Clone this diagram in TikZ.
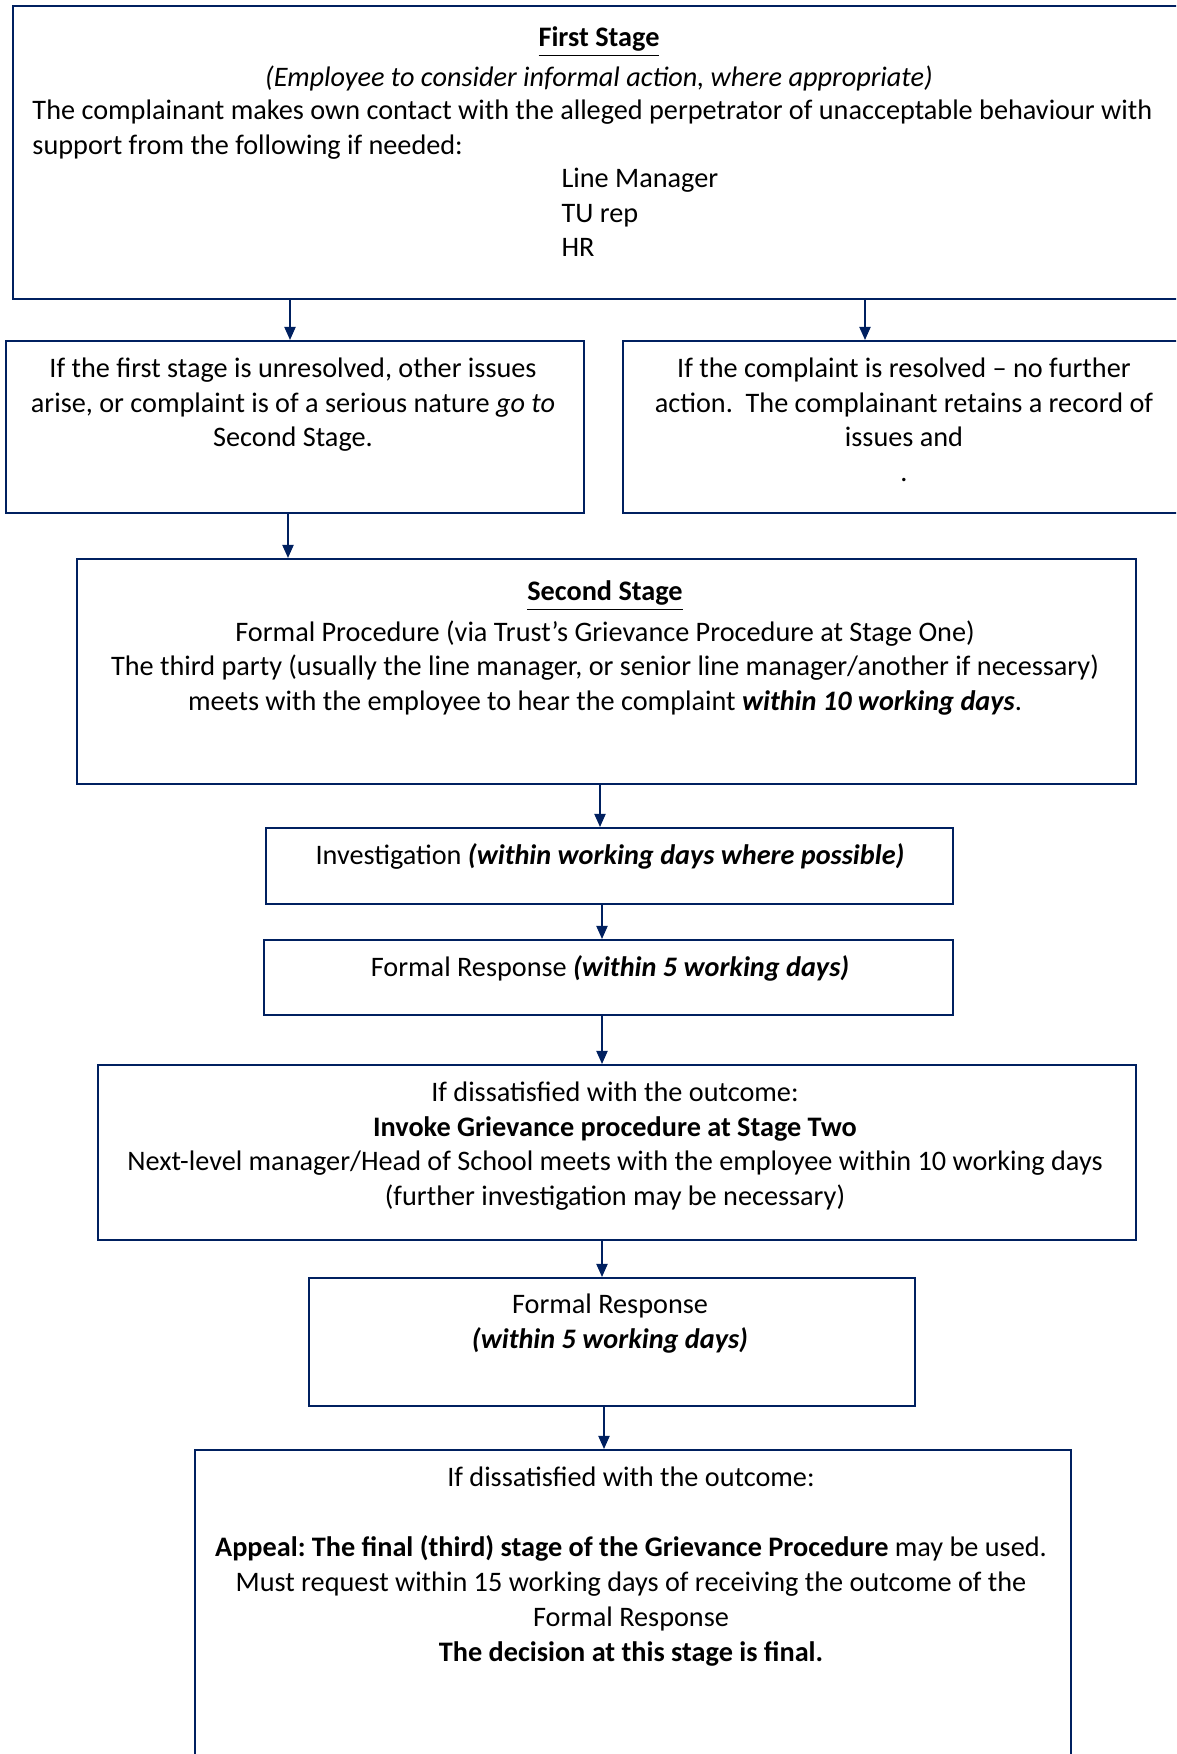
\documentclass[tikz,border=0pt]{standalone}
\usepackage{fontspec}
\setmainfont{Carlito}
\usepackage{tikz}
\usetikzlibrary{arrows.meta,positioning}
\definecolor{navy}{RGB}{0,32,96}
\frenchspacing

\begin{document}
\begin{tikzpicture}[x=0.4pt,y=-0.4pt,
box/.style={draw=navy,line width=0.9pt,anchor=north west,inner sep=0pt},
txt/.style={align=center,anchor=north,inner sep=0pt,font=\fontsize{11.3}{13.8}\selectfont,
  execute at begin node=\strut},
arr/.style={-{Triangle[length=5.3pt,width=4.5pt]},navy,line width=0.7pt}]
\useasboundingbox (0,0) rectangle (1176,1754);
\clip (0,0) rectangle (1176,1754);
% boxes
\node[box,minimum width=(1190-12)*0.4pt,minimum height=(298-4.5)*0.4pt] (first) at (12,4.5){};
\node[box,minimum width=(583-4.5)*0.4pt,minimum height=(512-340)*0.4pt] (esc) at (4.5,340){};
\node[box,minimum width=(1190-622)*0.4pt,minimum height=(512-340)*0.4pt] (res) at (622,340){};
\node[box,minimum width=(1135-76)*0.4pt,minimum height=(783-558)*0.4pt] (second) at (76,558){};
\node[box,minimum width=(952-265)*0.4pt,minimum height=(903-827)*0.4pt] (invest) at (265,827){};
\node[box,minimum width=(952-263)*0.4pt,minimum height=(1014-939)*0.4pt] (respone) at (263,939){};
\node[box,minimum width=(1135-97)*0.4pt,minimum height=(1239-1064)*0.4pt] (stagetwo) at (97,1064){};
\node[box,minimum width=(914-308)*0.4pt,minimum height=(1405-1277)*0.4pt] (resptwo) at (308,1277){};
\node[box,minimum width=(1070-194)*0.4pt,minimum height=(1770-1449)*0.4pt] (appeal) at (194,1449){};
% texts
\node[txt] (firsthead) at (599,26.5){\underline{\textbf{First Stage}}\\[2pt]\textit{(Employee to consider informal action, where appropriate)}};
\node[txt,align=left,anchor=north west] (firstbody) at (32,99.5){The complainant makes own contact with the alleged perpetrator of unacceptable behaviour with\\support from the following if needed:};
\node[txt,align=left,anchor=north west] (firstlist) at (561,168){Line Manager\\TU rep\\HR};
\node[txt] (esctext) at (293,357.5){If the first stage is unresolved, other issues\\arise, or complaint is of a serious nature \textit{go to}\\Second Stage.};
\node[txt] (restext) at (904,357.5){If the complaint is resolved -- no further\\action.\ \ The complainant retains a record of\\issues and\\.};
\node[txt] (secondtext) at (605,580.5){\underline{\textbf{Second Stage}}\\[2.4pt]Formal Procedure (via Trust’s Grievance Procedure at Stage One)\\The third party (usually the line manager, or senior line manager/another if necessary)\\meets with the employee to hear the complaint \textbf{\textit{within 10 working days}}.};
\node[txt] (investtext) at (610,840){Investigation \textbf{\textit{(within working days where possible)}}};
\node[txt] (responetext) at (610,952){Formal Response \textbf{\textit{(within 5 working days)}}};
\node[txt] (stagetwotext) at (615,1081.5){If dissatisfied with the outcome:\\\textbf{Invoke Grievance procedure at Stage Two}\\Next-level manager/Head of School meets with the employee within 10 working days\\(further investigation may be necessary)};
\node[txt] (resptwotext) at (610,1293.5){Formal Response\\\textbf{\textit{(within 5 working days)}}};
\node[txt,font=\fontsize{11.3}{14}\selectfont] (appealtext) at (631,1466){If dissatisfied with the outcome:\\[14pt]\textbf{Appeal: The final (third) stage of the Grievance Procedure} may be used.\\Must request within 15 working days of receiving the outcome of the\\Formal Response\\\textbf{The decision at this stage is final.}};
% arrows
\draw[arr] (first.south -| 290,0) -- (esc.north -| 290,0);
\draw[arr] (first.south -| 865,0) -- (res.north -| 865,0);
\draw[arr] (esc.south -| 288,0) -- (second.north -| 288,0);
\draw[arr] (second.south -| 600,0) -- (invest.north -| 600,0);
\draw[arr] (invest.south -| 602,0) -- (respone.north -| 602,0);
\draw[arr] (respone.south -| 602,0) -- (stagetwo.north -| 602,0);
\draw[arr] (stagetwo.south -| 602,0) -- (resptwo.north -| 602,0);
\draw[arr] (resptwo.south -| 604,0) -- (appeal.north -| 604,0);
\end{tikzpicture}
\end{document}
